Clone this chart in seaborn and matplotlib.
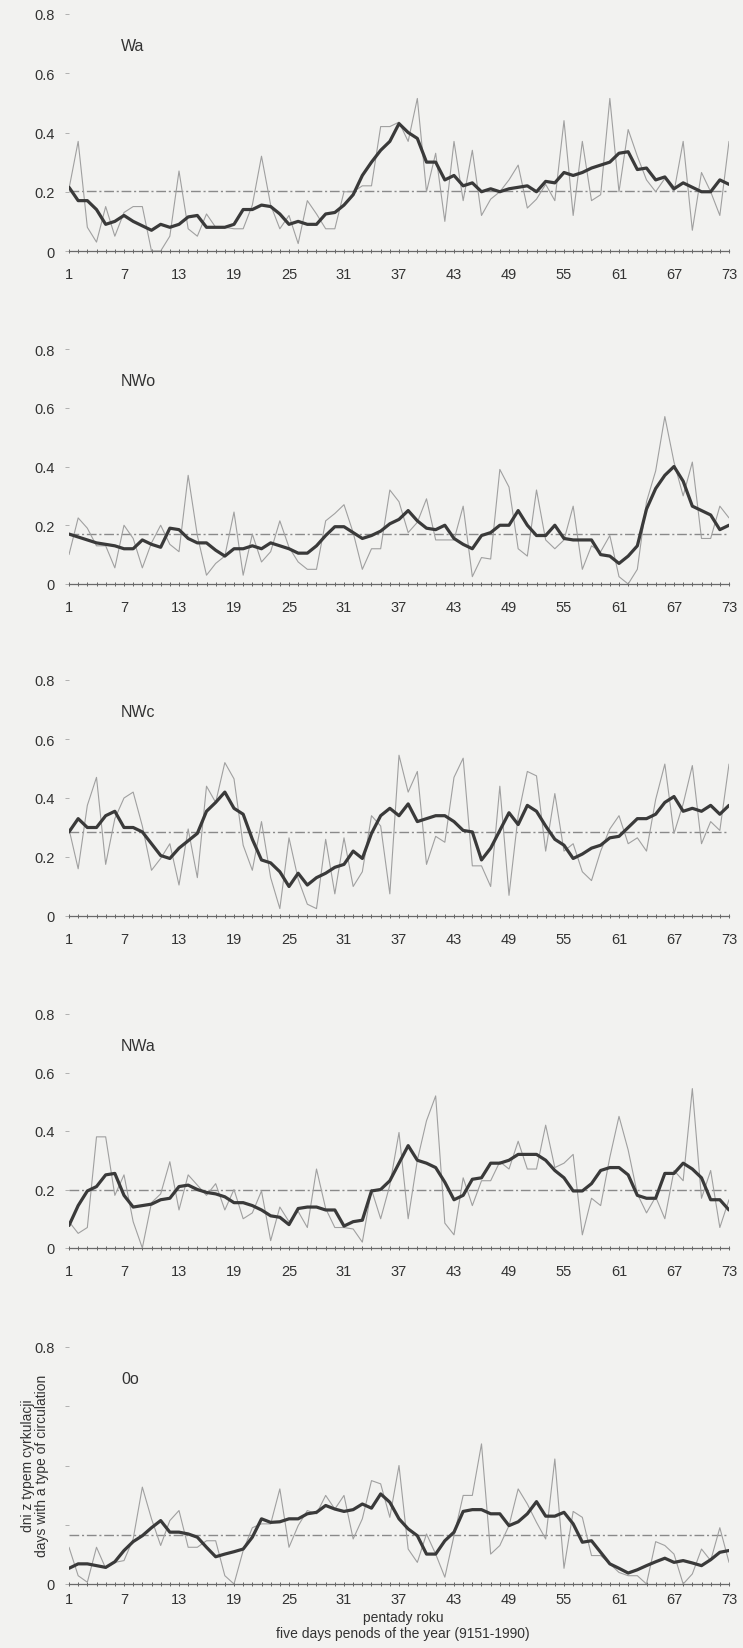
import matplotlib
matplotlib.use("Agg")
import matplotlib.pyplot as plt
import pandas as pd
import seaborn as sns

sns.set_style("white")
plt.rcParams['font.family'] = ['Liberation Sans Narrow', 'Liberation Sans', 'DejaVu Sans']

pentads = list(range(1, 74))
x_ticks = [1, 7, 13, 19, 25, 31, 37, 43, 49, 55, 61, 67, 73]
y_ticks = [0, 0.2, 0.4, 0.6, 0.8]

# Wa
wa_raw = [0.21, 0.37, 0.08, 0.03, 0.15, 0.05, 0.13, 0.15, 0.15, 0.0, 0.0, 0.05, 0.27, 0.075,
          0.05, 0.125, 0.08, 0.08, 0.075, 0.075, 0.155, 0.32, 0.155, 0.075, 0.12, 0.025, 0.17,
          0.125, 0.075, 0.075, 0.2, 0.2, 0.22, 0.22, 0.42, 0.42, 0.435, 0.37, 0.515, 0.2, 0.33,
          0.1, 0.37, 0.17, 0.34, 0.12, 0.175, 0.2, 0.24, 0.29, 0.145, 0.175, 0.225, 0.17, 0.44,
          0.12, 0.37, 0.17, 0.19, 0.515, 0.2, 0.41, 0.32, 0.24, 0.2, 0.245, 0.2, 0.37, 0.07,
          0.265, 0.2, 0.12, 0.37]
wa_smooth = [0.215, 0.17, 0.17, 0.14, 0.09, 0.10, 0.12, 0.10, 0.085, 0.07, 0.09, 0.08, 0.09,
             0.115, 0.12, 0.08, 0.08, 0.08, 0.09, 0.14, 0.14, 0.155, 0.15, 0.125, 0.09, 0.10,
             0.09, 0.09, 0.125, 0.13, 0.155, 0.19, 0.255, 0.30, 0.34, 0.37, 0.43, 0.40, 0.38,
             0.30, 0.30, 0.24, 0.255, 0.22, 0.23, 0.20, 0.21, 0.20, 0.21, 0.215, 0.22, 0.20,
             0.235, 0.23, 0.265, 0.255, 0.265, 0.28, 0.29, 0.30, 0.33, 0.335, 0.275, 0.28, 0.24,
             0.25, 0.21, 0.23, 0.215, 0.20, 0.20, 0.24, 0.225]
wa_mean = 0.204

# NWo
nwo_raw = [0.10, 0.225, 0.19, 0.13, 0.13, 0.055, 0.2, 0.155, 0.055, 0.14, 0.2, 0.135, 0.11,
           0.37, 0.165, 0.03, 0.07, 0.095, 0.245, 0.03, 0.17, 0.075, 0.11, 0.215, 0.125, 0.075,
           0.05, 0.05, 0.215, 0.24, 0.27, 0.175, 0.05, 0.12, 0.12, 0.32, 0.28, 0.175, 0.21,
           0.29, 0.15, 0.15, 0.15, 0.265, 0.025, 0.09, 0.085, 0.39, 0.33, 0.12, 0.095, 0.32,
           0.15, 0.12, 0.15, 0.265, 0.05, 0.13, 0.11, 0.165, 0.025, 0.0, 0.05, 0.28, 0.385,
           0.57, 0.415, 0.30, 0.415, 0.155, 0.155, 0.265, 0.225]
nwo_smooth = [0.17, 0.16, 0.15, 0.14, 0.135, 0.13, 0.12, 0.12, 0.15, 0.135, 0.125, 0.19, 0.185,
              0.155, 0.14, 0.14, 0.115, 0.095, 0.12, 0.12, 0.13, 0.12, 0.14, 0.13, 0.12, 0.105,
              0.105, 0.13, 0.165, 0.195, 0.195, 0.175, 0.155, 0.165, 0.18, 0.205, 0.22, 0.25,
              0.215, 0.19, 0.185, 0.2, 0.155, 0.135, 0.12, 0.165, 0.175, 0.2, 0.2, 0.25, 0.2,
              0.165, 0.165, 0.2, 0.155, 0.15, 0.15, 0.15, 0.10, 0.095, 0.07, 0.095, 0.13, 0.255,
              0.325, 0.37, 0.40, 0.35, 0.265, 0.25, 0.235, 0.185, 0.2]
nwo_mean = 0.17

# NWc
nwc_raw = [0.295, 0.16, 0.375, 0.47, 0.175, 0.33, 0.40, 0.42, 0.305, 0.155, 0.195, 0.245, 0.105,
           0.295, 0.13, 0.44, 0.385, 0.52, 0.465, 0.24, 0.155, 0.32, 0.13, 0.025, 0.265, 0.125,
           0.04, 0.025, 0.26, 0.075, 0.265, 0.10, 0.15, 0.34, 0.305, 0.075, 0.545, 0.42, 0.49,
           0.175, 0.27, 0.25, 0.47, 0.535, 0.17, 0.17, 0.10, 0.44, 0.07, 0.34, 0.49, 0.475, 0.22,
           0.415, 0.22, 0.245, 0.15, 0.12, 0.22, 0.295, 0.34, 0.245, 0.265, 0.22, 0.395, 0.515,
           0.28, 0.38, 0.51, 0.245, 0.32, 0.29, 0.515]
nwc_smooth = [0.285, 0.33, 0.30, 0.30, 0.34, 0.355, 0.30, 0.30, 0.285, 0.245, 0.205, 0.195, 0.23,
              0.255, 0.28, 0.355, 0.385, 0.42, 0.365, 0.345, 0.26, 0.19, 0.18, 0.15, 0.10, 0.145,
              0.105, 0.13, 0.145, 0.165, 0.175, 0.22, 0.195, 0.28, 0.34, 0.365, 0.34, 0.38, 0.32,
              0.33, 0.34, 0.34, 0.32, 0.29, 0.285, 0.19, 0.23, 0.29, 0.35, 0.31, 0.375, 0.355,
              0.305, 0.26, 0.24, 0.195, 0.21, 0.23, 0.24, 0.265, 0.27, 0.30, 0.33, 0.33, 0.345,
              0.385, 0.405, 0.355, 0.365, 0.355, 0.375, 0.345, 0.375]
nwc_mean = 0.285

# NWa
nwa_raw = [0.09, 0.05, 0.07, 0.38, 0.38, 0.18, 0.25, 0.09, 0.0, 0.155, 0.185, 0.295, 0.13,
           0.25, 0.215, 0.18, 0.22, 0.13, 0.20, 0.10, 0.12, 0.195, 0.025, 0.14, 0.09, 0.125,
           0.07, 0.27, 0.135, 0.07, 0.07, 0.065, 0.02, 0.20, 0.10, 0.215, 0.395, 0.10, 0.30,
           0.435, 0.52, 0.085, 0.045, 0.24, 0.145, 0.23, 0.23, 0.295, 0.27, 0.365, 0.27, 0.27,
           0.42, 0.275, 0.29, 0.32, 0.045, 0.17, 0.145, 0.31, 0.45, 0.335, 0.185, 0.12, 0.175,
           0.10, 0.265, 0.23, 0.545, 0.17, 0.265, 0.07, 0.165]
nwa_smooth = [0.077, 0.145, 0.195, 0.21, 0.25, 0.255, 0.18, 0.14, 0.145, 0.15, 0.165, 0.17, 0.21,
              0.215, 0.20, 0.19, 0.185, 0.175, 0.155, 0.155, 0.145, 0.13, 0.11, 0.105, 0.08,
              0.135, 0.14, 0.14, 0.13, 0.13, 0.075, 0.09, 0.095, 0.195, 0.20, 0.23, 0.29, 0.35,
              0.30, 0.29, 0.275, 0.225, 0.165, 0.18, 0.235, 0.24, 0.29, 0.29, 0.30, 0.32, 0.32,
              0.32, 0.30, 0.265, 0.24, 0.195, 0.195, 0.22, 0.265, 0.275, 0.275, 0.25, 0.18, 0.17,
              0.17, 0.255, 0.255, 0.29, 0.27, 0.24, 0.165, 0.165, 0.13]
nwa_mean = 0.198

# 0o
oo_raw = [0.124, 0.028, 0.006, 0.124, 0.053, 0.073, 0.079, 0.152, 0.327, 0.22, 0.13, 0.214,
          0.248, 0.124, 0.124, 0.146, 0.146, 0.028, 0.0, 0.113, 0.19, 0.203, 0.203, 0.321,
          0.124, 0.197, 0.248, 0.237, 0.299, 0.253, 0.299, 0.152, 0.22, 0.349, 0.338, 0.225,
          0.40, 0.118, 0.073, 0.169, 0.101, 0.023, 0.163, 0.299, 0.299, 0.473, 0.101, 0.13,
          0.197, 0.321, 0.27, 0.208, 0.152, 0.422, 0.053, 0.245, 0.225, 0.096, 0.096, 0.068,
          0.039, 0.028, 0.028, 0.0, 0.143, 0.13, 0.101, 0.0, 0.034, 0.118, 0.079, 0.19, 0.073]
oo_smooth = [0.053, 0.068, 0.068, 0.062, 0.056, 0.075, 0.113, 0.143, 0.163, 0.19, 0.214, 0.175,
             0.175, 0.169, 0.158, 0.124, 0.092, 0.101, 0.109, 0.118, 0.158, 0.22, 0.208, 0.21,
             0.22, 0.22, 0.237, 0.242, 0.265, 0.253, 0.245, 0.251, 0.27, 0.256, 0.304, 0.276,
             0.22, 0.186, 0.163, 0.101, 0.101, 0.146, 0.175, 0.245, 0.251, 0.251, 0.237, 0.237,
             0.197, 0.21, 0.237, 0.278, 0.229, 0.229, 0.242, 0.203, 0.141, 0.146, 0.107, 0.068,
             0.053, 0.037, 0.048, 0.062, 0.075, 0.087, 0.073, 0.079, 0.071, 0.062, 0.082, 0.107,
             0.113]
oo_mean = 0.165

names = ["Wa", "NWo", "NWc", "NWa", "0o"]
raws = [wa_raw, nwo_raw, nwc_raw, nwa_raw, oo_raw]
smooths = [wa_smooth, nwo_smooth, nwc_smooth, nwa_smooth, oo_smooth]
means = [wa_mean, nwo_mean, nwc_mean, nwa_mean, oo_mean]

bg = '#f2f2f0'
txt = '#333333'
W, H = 743.0, 1649.0
fig = plt.figure(figsize=(W / 100, H / 100), dpi=100, facecolor=bg)

# panel boxes measured on the scan (pixels from top: y=0.8 and y=0)
tops = [15, 350, 681, 1015, 1348]
bots = [252, 585, 917, 1249, 1585]
left, right = 69 / W, 729 / W

for i in range(5):
    ax = fig.add_axes([left, 1 - bots[i] / H, right - left, (bots[i] - tops[i]) / H])
    ax.set_facecolor(bg)
    df = pd.DataFrame({"pentad": pentads, "raw": raws[i], "smooth": smooths[i]})

    ax.axhline(means[i], color='#8a8a8a', lw=1.0, ls=(0, (7, 2, 1.5, 2)), zorder=1)
    sns.lineplot(data=df, x="pentad", y="raw", ax=ax, color='#a0a0a0', lw=0.8, zorder=2)
    sns.lineplot(data=df, x="pentad", y="smooth", ax=ax, color='#3a3a3a', lw=2.3, zorder=3)

    ax.set_xlim(1, 73)
    ax.set_ylim(0, 0.8)
    ax.set_xticks(x_ticks)
    ax.set_xticks(pentads, minor=True)
    ax.set_yticks(y_ticks)
    if i == 4:
        ax.set_yticklabels(['0', '', '', '', '0.8'])
    else:
        ax.set_yticklabels(['0', '0.2', '0.4', '0.6', '0.8'])

    for s in ['top', 'right', 'left']:
        ax.spines[s].set_visible(False)
    ax.spines['bottom'].set_color('#6a6a6a')
    ax.spines['bottom'].set_linewidth(0.9)
    ax.spines['bottom'].set_linestyle((0, (4, 1)))

    ax.tick_params(axis='x', which='both', direction='inout', length=3.5, width=0.7,
                   color='#666666', bottom=True, labelsize=10.5, labelcolor=txt,
                   pad=4 if i == 4 else 10)
    ax.tick_params(axis='y', which='major', direction='out', length=3, width=0.7,
                   color='#b0b0b0', left=True, labelsize=10.5, labelcolor=txt, pad=7)

    ax.set_xlabel('')
    ax.set_ylabel('')
    ax.text(0.079, 0.865, names[i], transform=ax.transAxes, va='center', ha='left',
            fontsize=11.5, color=txt)

# axis titles of the bottom panel
fig.text(35 / W, 1 - 1466 / H, 'dni z typem cyrkulacji\ndays with a type of circulation',
         rotation=90, ha='center', va='center', fontsize=10, color=txt, linespacing=1.05)
fig.text(403 / W, 1 - 1618 / H, 'pentady roku', ha='center', va='center',
         fontsize=10, color=txt)
fig.text(403 / W, 1 - 1634 / H, 'five days penods of the year (9151-1990)', ha='center',
         va='center', fontsize=10, color=txt)

fig.savefig('out.png', dpi=100, facecolor=bg)
